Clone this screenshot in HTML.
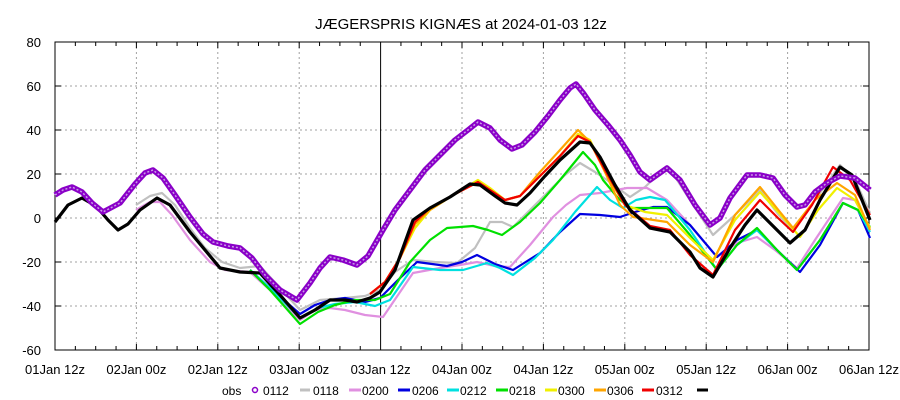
<!DOCTYPE html>
<html><head><meta charset="utf-8"><style>
body{margin:0;background:#fff}
svg{display:block;font-family:"Liberation Sans",sans-serif}
</style></head><body>
<svg width="900" height="400" viewBox="0 0 900 400" xmlns="http://www.w3.org/2000/svg">
<rect width="900" height="400" fill="#fff"/>
<text x="461" y="29" font-size="15" text-anchor="middle">JÆGERSPRIS KIGNÆS at 2024-01-03 12z</text>
<g stroke="#a0a0a0" stroke-dasharray="2,3" stroke-width="1">
<line x1="55" y1="86" x2="869" y2="86"/><line x1="55" y1="130" x2="869" y2="130"/><line x1="55" y1="174" x2="869" y2="174"/><line x1="55" y1="218" x2="869" y2="218"/><line x1="55" y1="262" x2="869" y2="262"/><line x1="55" y1="306" x2="869" y2="306"/>
<line x1="136.4" y1="42" x2="136.4" y2="350"/><line x1="217.8" y1="42" x2="217.8" y2="350"/><line x1="299.2" y1="42" x2="299.2" y2="350"/><line x1="462" y1="42" x2="462" y2="350"/><line x1="543.4" y1="42" x2="543.4" y2="350"/><line x1="624.8" y1="42" x2="624.8" y2="350"/><line x1="706.2" y1="42" x2="706.2" y2="350"/><line x1="787.6" y1="42" x2="787.6" y2="350"/>
</g>
<line x1="380.6" y1="42" x2="380.6" y2="350" stroke="#000"/>
<g stroke="#000" stroke-width="1">
<path d="M75.35 42v4M95.7 42v4M116.05 42v4M136.4 42v6M156.75 42v4M177.1 42v4M197.45 42v4M217.8 42v6M238.15 42v4M258.5 42v4M278.85 42v4M299.2 42v6M319.55 42v4M339.9 42v4M360.25 42v4M400.95 42v4M421.3 42v4M441.65 42v4M462 42v6M482.35 42v4M502.7 42v4M523.05 42v4M543.4 42v6M563.75 42v4M584.1 42v4M604.45 42v4M624.8 42v6M645.15 42v4M665.5 42v4M685.85 42v4M706.2 42v6M726.55 42v4M746.9 42v4M767.25 42v4M787.6 42v6M807.95 42v4M828.3 42v4M848.65 42v4"/>
<path d="M75.35 350v-4M95.7 350v-4M116.05 350v-4M136.4 350v-6M156.75 350v-4M177.1 350v-4M197.45 350v-4M217.8 350v-6M238.15 350v-4M258.5 350v-4M278.85 350v-4M299.2 350v-6M319.55 350v-4M339.9 350v-4M360.25 350v-4M400.95 350v-4M421.3 350v-4M441.65 350v-4M462 350v-6M482.35 350v-4M502.7 350v-4M523.05 350v-4M543.4 350v-6M563.75 350v-4M584.1 350v-4M604.45 350v-4M624.8 350v-6M645.15 350v-4M665.5 350v-4M685.85 350v-4M706.2 350v-6M726.55 350v-4M746.9 350v-4M767.25 350v-4M787.6 350v-6M807.95 350v-4M828.3 350v-4M848.65 350v-4"/>
<path d="M55 86h6M55 130h6M55 174h6M55 218h6M55 262h6M55 306h6M869 86h-6M869 130h-6M869 174h-6M869 218h-6M869 262h-6M869 306h-6"/>
</g>
<rect x="55" y="42" width="814" height="308" fill="none" stroke="#000"/>
<g font-size="13" text-anchor="end">
<text x="41" y="47">80</text><text x="41" y="91">60</text><text x="41" y="135">40</text><text x="41" y="179">20</text><text x="41" y="223">0</text><text x="41" y="267">-20</text><text x="41" y="311">-40</text><text x="41" y="355">-60</text>
</g>
<g font-size="13" text-anchor="middle">
<text x="55" y="374">01Jan 12z</text><text x="136.4" y="374">02Jan 00z</text><text x="217.8" y="374">02Jan 12z</text><text x="299.2" y="374">03Jan 00z</text><text x="380.6" y="374">03Jan 12z</text><text x="462" y="374">04Jan 00z</text><text x="543.4" y="374">04Jan 12z</text><text x="624.8" y="374">05Jan 00z</text><text x="706.2" y="374">05Jan 12z</text><text x="787.6" y="374">06Jan 00z</text><text x="869" y="374">06Jan 12z</text>
</g>
<g fill="none" stroke-width="2.2" stroke-linejoin="round">
<polyline stroke="#c0c0c0" points="136,205 150,196 162,193 175,205 190,228 205,248 222,262 240,268 260,266 280,288 300,310 320,300 345,298 365,296 380,290 395,272 413,260 435,262 457,263 475,248 490,222 502,222 513,227 530,210 547,193 565,175 580,163 595,172 607,180 630,197 645,187 663,170 672,172 690,200 713,235 735,215 760,190 778,214 793,230 815,200 840,165 855,180 870,213"/>
<polyline stroke="#e090e0" points="136,210 150,202 160,202 172,215 190,240 210,262 225,270 250,272 270,290 300,320 315,310 330,308 345,310 365,315 383,317 398,295 413,273 440,268 460,265 477,262 495,266 510,267 530,245 553,217 566,205 580,195 600,193 627,188 647,188 667,200 690,225 717,257 737,243 757,237 775,250 797,268 815,240 843,198 855,200 870,228"/>
<polyline stroke="#0000e0" points="250,270 270,288 300,314 315,305 330,300 345,298 365,302 380,298 398,280 417,262 447,266 462,262 477,255 495,264 513,270 540,253 560,232 580,214 600,215 620,217 635,212 653,207 667,207 690,225 717,257 737,240 757,230 777,250 800,272 820,245 843,203 858,210 870,238"/>
<polyline stroke="#00e0e0" points="250,270 270,288 300,318 318,308 335,304 355,302 375,306 390,300 413,267 440,270 463,270 487,263 500,268 513,275 535,258 553,240 575,212 597,187 610,200 623,208 636,200 650,197 665,200 690,230 717,270 737,245 757,230 777,250 797,270 820,240 843,203 858,210 870,232"/>
<polyline stroke="#00e000" points="250,270 270,290 300,324 318,312 335,305 355,300 375,300 390,294 410,262 430,240 447,228 473,226 488,230 502,235 520,222 540,203 560,180 583,152 595,165 603,180 618,198 630,208 645,208 667,208 690,235 717,270 737,245 757,228 777,250 797,270 820,240 843,203 858,210 870,227"/>
<polyline stroke="#f0f000" points="370,294 385,282 400,258 415,228 430,210 455,194 478,180 490,188 505,200 520,196 540,176 560,156 578,134 590,140 605,172 625,205 645,212 667,215 690,238 713,260 735,220 760,192 780,214 800,237 818,210 837,188 855,200 870,228"/>
<polyline stroke="#ffa500" points="370,294 385,282 400,258 415,224 430,210 455,194 478,182 490,190 505,200 520,196 540,172 560,150 578,130 590,142 605,172 620,205 633,217 667,222 690,245 713,262 735,215 760,187 780,212 793,228 815,200 837,183 855,195 870,230"/>
<polyline stroke="#f00000" points="370,294 385,282 400,258 415,222 430,208 455,194 478,182 490,190 505,200 520,196 540,176 560,156 578,136 590,142 605,170 625,205 650,226 670,230 690,255 713,275 735,230 760,200 778,218 793,232 812,205 833,167 850,180 870,215"/>
<polyline stroke="#000" stroke-width="3.2" points="55,222 68,205 82,198 96,206 108,220 118,230 128,224 140,210 157,198 170,205 190,232 205,250 220,268 240,272 260,273 280,295 300,318 315,310 330,300 345,300 357,302 370,298 380,292 395,270 413,220 430,208 450,197 470,184 480,185 495,196 505,203 517,205 530,193 545,176 560,160 580,142 590,143 600,157 615,185 630,210 650,228 670,232 690,252 700,268 713,277 730,248 745,225 757,210 772,225 790,243 805,230 820,200 840,167 852,175 870,220"/>
<polyline stroke="#8a00c8" stroke-width="5.5" points="55,195 63,190 72,187 82,192 92,203 103,212 120,203 135,184 145,173 153,170 163,178 175,195 190,217 203,234 213,242 228,246 240,248 252,258 265,275 280,290 297,300 310,283 320,268 330,257 343,260 357,265 368,256 383,230 395,210 410,190 425,170 440,155 455,140 468,130 478,122 490,128 500,140 512,149 522,145 535,132 548,116 560,100 570,88 576,84 584,94 595,110 608,125 620,140 630,155 640,172 650,180 667,168 680,180 695,205 710,225 720,218 730,198 747,175 760,175 773,178 785,195 797,207 805,205 815,192 827,183 840,176 855,178 870,190"/>
<polyline stroke="#c89ae6" stroke-width="1.5" stroke-dasharray="2,2" points="55,195 63,190 72,187 82,192 92,203 103,212 120,203 135,184 145,173 153,170 163,178 175,195 190,217 203,234 213,242 228,246 240,248 252,258 265,275 280,290 297,300 310,283 320,268 330,257 343,260 357,265 368,256 383,230 395,210 410,190 425,170 440,155 455,140 468,130 478,122 490,128 500,140 512,149 522,145 535,132 548,116 560,100 570,88 576,84 584,94 595,110 608,125 620,140 630,155 640,172 650,180 667,168 680,180 695,205 710,225 720,218 730,198 747,175 760,175 773,178 785,195 797,207 805,205 815,192 827,183 840,176 855,178 870,190"/>
</g>
<g font-size="12">
<text x="222" y="395">obs</text>
<circle cx="255" cy="390" r="2.5" fill="none" stroke="#8a00c8" stroke-width="1.5"/>
<text x="263" y="395">0112</text>
<line x1="300" y1="390" x2="310" y2="390" stroke="#c0c0c0" stroke-width="3"/><text x="313" y="395">0118</text>
<line x1="349" y1="390" x2="361" y2="390" stroke="#e090e0" stroke-width="3"/><text x="362" y="395">0200</text>
<line x1="398" y1="390" x2="410" y2="390" stroke="#0000e0" stroke-width="3"/><text x="412" y="395">0206</text>
<line x1="447" y1="390" x2="459" y2="390" stroke="#00e0e0" stroke-width="3"/><text x="460" y="395">0212</text>
<line x1="496" y1="390" x2="508" y2="390" stroke="#00e000" stroke-width="3"/><text x="509" y="395">0218</text>
<line x1="545" y1="390" x2="557" y2="390" stroke="#f0f000" stroke-width="3"/><text x="558" y="395">0300</text>
<line x1="594" y1="390" x2="606" y2="390" stroke="#ffa500" stroke-width="3"/><text x="607" y="395">0306</text>
<line x1="642" y1="390" x2="654" y2="390" stroke="#f00000" stroke-width="3"/><text x="656" y="395">0312</text>
<line x1="697" y1="390" x2="708" y2="390" stroke="#000" stroke-width="3"/>
</g>
</svg>
</body></html>
